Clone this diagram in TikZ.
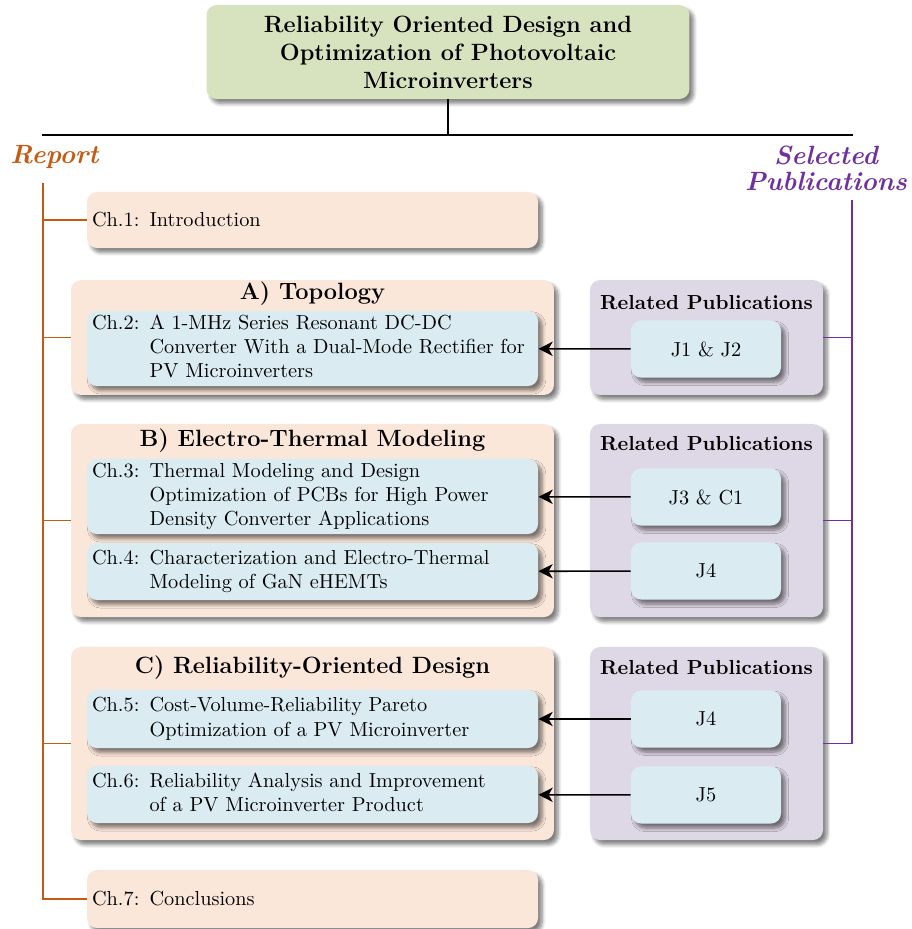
\documentclass[tikz,border=0pt]{standalone}
\usetikzlibrary{arrows.meta,shadows.blur}
\definecolor{peach}{RGB}{251,231,218}
\definecolor{paleblue}{RGB}{218,236,242}
\definecolor{lavender}{RGB}{222,215,229}
\definecolor{sage}{RGB}{215,226,190}
\definecolor{rust}{RGB}{197,90,17}
\definecolor{pubviolet}{RGB}{112,48,160}
\newcommand{\chapline}[2]{\begin{tabular}{@{}l@{\hspace{5pt}}p{188.2pt}@{}}Ch.#1: & #2\end{tabular}}
\tikzset{
  box/.style={rectangle, rounded corners=5pt, blur shadow={shadow xshift=2pt, shadow yshift=-2.2pt, shadow blur radius=1.8pt, shadow blur steps=6, shadow opacity=50}},
  group/.style={box, fill=peach, minimum width=237.9pt},
  pubgroup/.style={box, fill=lavender, minimum width=114.8pt},
  chap/.style={box, fill=paleblue, minimum width=222.2pt, text width=217.2pt, inner xsep=2.5pt, inner ysep=0.5pt, align=left},
  pub/.style={box, fill=paleblue, minimum width=73.9pt, minimum height=28.1pt},
  grouptitle/.style={font=\fontsize{11.6}{13.8}\selectfont\bfseries, inner sep=0pt},
  pubtitle/.style={font=\bfseries, inner sep=0pt},
  side/.style={inner sep=0pt, font=\fontsize{13}{12.8}\selectfont\bfseries\itshape},
  arr/.style={-{Stealth[length=7pt,width=7pt,inset=2pt]}, thick}
}
\begin{document}
\begin{tikzpicture}[x=0.4926pt, y=0.4926pt]
\useasboundingbox (0,0) rectangle (912,-929);
\node [box, fill=sage, minimum width=237.9pt, minimum height=46.3pt, inner ysep=2pt, align=center, font=\fontsize{11.6}{13.8}\selectfont\bfseries] (title) at (448,-52) {Reliability Oriented Design and\\ Optimization of Photovoltaic\\ Microinverters};
\node [side, anchor=west, text=rust] (report) at (10,-157) {Report};
\node [side, align=center, text=pubviolet] (selpub) at (826,-168) {Selected\\ Publications};

\node [chap, fill=peach, minimum height=27.6pt] (ch1) at (312.5,-220) {Ch.1:\hspace{5pt}Introduction};

\node [group, minimum height=56.6pt] (grpA) at (312.5,-337.5) {};
\node [grouptitle] (titA) at (312.5,-294) {A) Topology};
\node [chap, minimum height=36pt] (ch2) at (312.5,-348.5) {\chapline{2}{A 1-MHz Series Resonant DC-DC\newline Converter With a Dual-Mode Rectifier for PV Microinverters}};

\node [group, minimum height=95.1pt] (grpB) at (312.5,-520.5) {};
\node [grouptitle] (titB) at (312.5,-441) {B) Electro-Thermal Modeling};
\node [chap, minimum height=36.9pt] (ch3) at (312.5,-496.5) {\chapline{3}{Thermal Modeling and Design\newline Optimization of PCBs for High Power\newline Density Converter Applications}};
\node [chap, minimum height=28.1pt] (ch4) at (312.5,-571.5) {\chapline{4}{Characterization and Electro-Thermal\newline Modeling of GaN eHEMTs}};

\node [group, minimum height=95.1pt] (grpC) at (312.5,-743.5) {};
\node [grouptitle] (titC) at (312.5,-668) {C) Reliability-Oriented Design};
\node [chap, minimum height=28.6pt] (ch5) at (312.5,-719) {\chapline{5}{Cost-Volume-Reliability Pareto\newline Optimization of a PV Microinverter}};
\node [chap, minimum height=28.1pt] (ch6) at (312.5,-794.5) {\chapline{6}{Reliability Analysis and Improvement\newline of a PV Microinverter Product}};

\node [chap, fill=peach, minimum height=28.6pt] (ch7) at (312.5,-899) {Ch.7:\hspace{5pt}Conclusions};

\node [pubgroup, minimum height=56.6pt] (pubA) at (706.5,-337.5) {};
\node [pubtitle] at (706.5,-303) {Related Publications};
\node [pub] (j12) at (706,-349) {J1 \& J2};

\node [pubgroup, minimum height=95.1pt] (pubB) at (706.5,-520.5) {};
\node [pubtitle] at (706.5,-444) {Related Publications};
\node [pub] (j3c1) at (706,-497) {J3 \& C1};
\node [pub] (j4a) at (706,-571) {J4};

\node [pubgroup, minimum height=95.1pt] (pubC) at (706.5,-743.5) {};
\node [pubtitle] at (706.5,-668) {Related Publications};
\node [pub] (j4b) at (706,-719) {J4};
\node [pub] (j5) at (706,-795) {J5};

\coordinate (barL) at (42,-135);
\coordinate (barR) at (853,-135);
\draw [thick] (barL) -- (barR);
\draw [semithick] (title) -- (title |- barL);

\coordinate (rtop) at (43,-183);
\draw [rust, line width=0.8pt] (rtop) |- (ch7.west);
\foreach \n in {ch1,grpA,grpB,grpC} {\draw [rust, line width=0.8pt] (rtop |- \n.west) -- (\n.west);}

\coordinate (ptop) at (852,-200);
\draw [pubviolet, line width=0.8pt] (ptop) |- (pubC.east);
\foreach \n in {pubA,pubB} {\draw [pubviolet, line width=0.8pt] (ptop |- \n.east) -- (\n.east);}

\draw [arr] (j12) -- (ch2);
\draw [arr] (j3c1) -- (ch3);
\draw [arr] (j4a) -- (ch4);
\draw [arr] (j4b) -- (ch5);
\draw [arr] (j5) -- (ch6);
\end{tikzpicture}
\end{document}
